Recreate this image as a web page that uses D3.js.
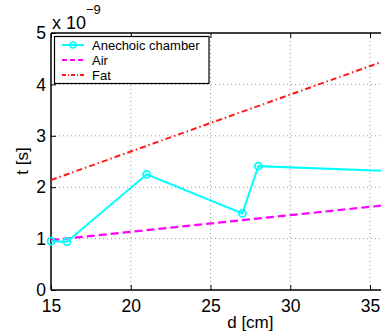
<!DOCTYPE html>
<html><head><meta charset="utf-8">
<script src="https://cdn.jsdelivr.net/npm/d3@7"></script>
<style>
html,body{margin:0;padding:0;background:#fff;}
svg{display:block;font-family:"Liberation Sans",Arial,Helvetica,sans-serif;}
</style></head>
<body>
<script>
const anechoicD = [15, 16, 21, 27, 28, 40];
const anechoicT = [0.95, 0.94, 2.25, 1.49, 2.41, 2.27];
const airD = [15, 40];
const airT = [0.97, 1.78];
const fatD = [15, 40];
const fatT = [2.14, 4.91];
const xTicks = [15, 20, 25, 30, 35, 40];
const yTicks = [0, 1, 2, 3, 4, 5];
const legendLabels = ["Anechoic chamber", "Air", "Fat"];

(function () {
const W = 381, H = 331;
const svg = d3.select("body").append("svg").attr("width", W).attr("height", H);
const pL = 51, pT = 33, pB = 290;
const x = d3.scaleLinear().domain([15, 40]).range([pL, pL + 25 * 15.95]);
const y = d3.scaleLinear().domain([0, 5]).range([pB, pT]);
const pR = x(40);

// grid
const g = svg.append("g");
g.selectAll(".gx").data(xTicks.slice(1, -1)).enter().append("line")
  .attr("x1", d => x(d)).attr("x2", d => x(d)).attr("y1", pT).attr("y2", pB)
  .attr("stroke", "#999").attr("stroke-width", 1).attr("stroke-dasharray", "1,3");
g.selectAll(".gy").data(yTicks.slice(1, -1)).enter().append("line")
  .attr("x1", pL).attr("x2", pR).attr("y1", d => y(d)).attr("y2", d => y(d))
  .attr("stroke", "#999").attr("stroke-width", 1).attr("stroke-dasharray", "1,3");

// axes
const xAxis = d3.axisBottom(x).tickValues(xTicks).tickSize(-5).tickPadding(10).tickFormat(d3.format("d"));
const xAxisTop = d3.axisTop(x).tickValues(xTicks).tickSize(-5).tickFormat("");
const yAxis = d3.axisLeft(y).tickValues(yTicks).tickSize(-5).tickPadding(5).tickFormat(d3.format("d"));
const yAxisRight = d3.axisRight(y).tickValues(yTicks).tickSize(-5).tickFormat("");
function styleAxis(sel) {
  sel.select(".domain").attr("stroke", "#000").attr("stroke-width", 1.5);
  sel.selectAll(".tick line").attr("stroke", "#000").attr("stroke-width", 1);
  sel.selectAll("text").attr("fill", "#000").style("font-size", "17.5px")
     .style("font-family", "Liberation Sans, Arial, sans-serif");
}
svg.append("g").attr("transform", `translate(0,${pB})`).call(xAxis).call(styleAxis)
  .selectAll(".domain").attr("d", `M${pL},0H${pR}`);
svg.append("g").attr("transform", `translate(0,${pT})`).call(xAxisTop).call(styleAxis)
  .selectAll(".domain").attr("d", `M${pL},0H${pR}`);
svg.append("g").attr("transform", `translate(${pL},0)`).call(yAxis).call(styleAxis)
  .selectAll(".domain").attr("d", `M0,${pT}V${pB}`);
svg.append("g").attr("transform", `translate(${pR},0)`).call(yAxisRight).call(styleAxis);

// lines
const line = d3.line().x(d => x(d[0])).y(d => y(d[1]));
const fat = fatD.map((d, i) => [d, fatT[i]]);
const air = airD.map((d, i) => [d, airT[i]]);
const an = anechoicD.map((d, i) => [d, anechoicT[i]]);
svg.append("path").datum(fat).attr("d", line).attr("fill", "none")
  .attr("stroke", "#ff1a1a").attr("stroke-width", 2).attr("stroke-dasharray", "6,3,1.5,3");
svg.append("path").datum(air).attr("d", line).attr("fill", "none")
  .attr("stroke", "#ff00ff").attr("stroke-width", 2.2).attr("stroke-dasharray", "8,4");
svg.append("path").datum(an).attr("d", line).attr("fill", "none")
  .attr("stroke", "#00ffff").attr("stroke-width", 2);
svg.selectAll(".mk").data(an).enter().append("circle")
  .attr("cx", d => x(d[0])).attr("cy", d => y(d[1])).attr("r", 3.5)
  .attr("fill", "none").attr("stroke", "#00ffff").attr("stroke-width", 1.8);

// exponent
const ex = svg.append("text").attr("x", 52).attr("y", 29).style("font-size", "18px").attr("fill", "#000");
ex.append("tspan").text("x 10");
ex.append("tspan").attr("dy", -15).style("font-size", "13px").text("−9");

// axis labels
svg.append("text").attr("transform", "translate(28,161) rotate(-90)").attr("text-anchor", "middle")
  .style("font-size", "17px").attr("fill", "#000").text("t [s]");
svg.append("text").attr("x", (pL + pR) / 2).attr("y", 328).attr("text-anchor", "middle")
  .style("font-size", "17px").attr("fill", "#000").text("d [cm]");

// legend
const lg = svg.append("g");
lg.append("rect").attr("x", 54.5).attr("y", 36.5).attr("width", 154.5).attr("height", 47)
  .attr("fill", "#fff").attr("stroke", "#000").attr("stroke-width", 1.2);
const styles = [
  {c: "#00ffff", dash: null, w: 2, mk: true},
  {c: "#ff00ff", dash: "5,3", w: 2, mk: false},
  {c: "#ff1a1a", dash: "4,2,1,2", w: 2, mk: false}
];
legendLabels.forEach((lab, i) => {
  const yy = 45 + i * 15;
  lg.append("line").attr("x1", 62).attr("x2", 84).attr("y1", yy).attr("y2", yy)
    .attr("stroke", styles[i].c).attr("stroke-width", styles[i].w)
    .attr("stroke-dasharray", styles[i].dash);
  if (styles[i].mk) lg.append("circle").attr("cx", 73).attr("cy", yy).attr("r", 3)
    .attr("fill", "none").attr("stroke", styles[i].c).attr("stroke-width", 1.5);
  lg.append("text").attr("x", 92).attr("y", yy + 4.5).style("font-size", "13px")
    .attr("fill", "#000").text(lab);
});
})();
</script>
</body></html>
